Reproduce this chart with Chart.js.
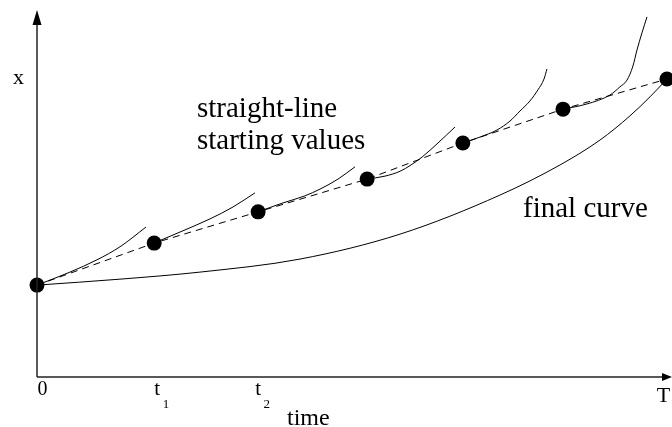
<!DOCTYPE html>
<html>
<head>
<meta charset="utf-8">
<script src="https://cdn.jsdelivr.net/npm/chart.js@4/dist/chart.umd.min.js"></script>
<style>
  html, body { margin: 0; padding: 0; background: #fff; }
  #wrap { width: 672px; height: 427px; position: relative; }
  .probe { font-family: "Liberation Serif"; position: absolute; left: -9999px; }
</style>
</head>
<body>
<span class="probe">straight-line</span>
<div id="wrap"><canvas id="c"></canvas></div>
<script>
// ---- data (time t in [0, T=10], x in arbitrary units 0..100) ----
const nodeT = [0, 1.86, 3.51, 5.24, 6.76, 8.35, 10.0];
const nodeX = [24.7, 36.0, 44.4, 53.2, 62.9, 72.0, 80.1];

const seg0T = [0, 0.524, 0.952, 1.317, 1.730];
const seg0X = [24.7, 28.2, 31.5, 35.0, 40.3];
const seg1T = [1.857, 2.302, 2.746, 3.111, 3.460];
const seg1X = [36.0, 39.2, 42.5, 45.7, 49.5];
const seg2T = [3.508, 3.905, 4.254, 4.492, 4.778, 5.048];
const seg2X = [44.4, 46.8, 48.7, 50.5, 53.2, 56.5];
const seg3T = [5.238, 5.524, 5.762, 5.937, 6.111, 6.365, 6.635];
const seg3X = [53.2, 54.0, 55.3, 57.0, 59.1, 62.9, 67.2];
const seg4T = [6.762, 7.032, 7.302, 7.508, 7.667, 7.825, 7.952, 8.048, 8.095];
const seg4X = [62.9, 64.5, 66.4, 68.8, 71.5, 74.2, 77.2, 80.1, 82.8];
const seg5T = [8.349, 8.730, 9.095, 9.254, 9.365, 9.460, 9.524, 9.603, 9.683];
const seg5X = [72.0, 73.4, 75.8, 78.0, 79.8, 83.6, 87.9, 92.5, 96.8];

const finalT = [0, 1.317, 2.587, 4.175, 5.762, 7.349, 8.302, 8.937, 9.413, 9.730, 10.0];
const finalX = [24.7, 26.3, 28.2, 31.7, 38.4, 48.9, 57.0, 63.7, 70.2, 75.3, 80.1];

const tickVals = [0, 1.86, 3.51, 10.0];
const tickLabels = ['0', 't', 't', 'T'];
const tickSubs = ['', '1', '2', ''];
const xAxisTitle = 'time';
const yAxisTitle = 'x';
const annotLines1 = ['straight-line', 'starting values'];
const annotLine2 = 'final curve';

// ---- helpers ----
const pts = (ts, xs) => ts.map((t, i) => ({ x: t, y: xs[i] }));
const SERIF = '"Liberation Serif", "Times New Roman", Times, "DejaVu Serif", serif';

function curve(ts, xs) {
  return {
    type: 'line', data: pts(ts, xs), borderColor: '#000', borderWidth: 1,
    pointRadius: 0, fill: false, cubicInterpolationMode: 'monotone', clip: false
  };
}

const decor = {
  id: 'decor',
  afterDatasetsDraw(chart) {
    const ctx = chart.ctx;
    const xs = chart.scales.x, ys = chart.scales.y;
    const x0 = xs.getPixelForValue(0), y0 = ys.getPixelForValue(0);
    const xEnd = chart.width, yTop = 10;
    ctx.save();
    ctx.strokeStyle = '#222'; ctx.fillStyle = '#000'; ctx.lineWidth = 1.5;
    // y axis
    ctx.beginPath(); ctx.moveTo(x0, y0); ctx.lineTo(x0, yTop + 8); ctx.stroke();
    ctx.beginPath(); ctx.moveTo(x0, yTop); ctx.lineTo(x0 - 4.5, yTop + 15); ctx.lineTo(x0 + 4.5, yTop + 15); ctx.closePath(); ctx.fill();
    // x axis
    ctx.beginPath(); ctx.moveTo(x0, y0); ctx.lineTo(xEnd - 6, y0); ctx.stroke();
    ctx.beginPath(); ctx.moveTo(xEnd, y0); ctx.lineTo(xEnd - 10, y0 - 4); ctx.lineTo(xEnd - 10, y0 + 4); ctx.closePath(); ctx.fill();

    // tick labels
    const offs = [5.5, 3, 0, -3.5];
    const base = [395, 395, 395, 402];
    const sizes = [20, 21, 21, 22];
    ctx.textBaseline = 'alphabetic';
    tickVals.forEach((v, i) => {
      const px = xs.getPixelForValue(v) + offs[i];
      ctx.font = sizes[i] + 'px ' + SERIF;
      ctx.textAlign = 'center';
      ctx.fillText(tickLabels[i], px, base[i]);
      if (tickSubs[i]) {
        ctx.font = '13px ' + SERIF;
        ctx.textAlign = 'left';
        ctx.fillText(tickSubs[i], px + 5.5, 408);
      }
    });
    // axis titles
    ctx.textAlign = 'left';
    ctx.font = '24px ' + SERIF;
    ctx.fillText(xAxisTitle, 287, 425);
    ctx.font = '22px ' + SERIF;
    ctx.fillText(yAxisTitle, 13, 84);
    // annotations
    ctx.font = '29px ' + SERIF;
    ctx.fillText(annotLines1[0], 197, 117);
    ctx.fillText(annotLines1[1], 197, 149);
    ctx.fillText(annotLine2, 523, 217);
    ctx.restore();
  }
};

new Chart(document.getElementById('c'), {
  type: 'scatter',
  data: {
    datasets: [
      { type: 'scatter', data: pts(nodeT, nodeX), pointRadius: 7.5, pointHoverRadius: 7.5,
        backgroundColor: '#000', borderColor: '#000', borderWidth: 0, showLine: false, clip: false },
      { type: 'line', data: pts(nodeT, nodeX), borderColor: '#000', borderWidth: 1,
        borderDash: [7, 5], pointRadius: 0, fill: false, tension: 0, clip: false },
      curve(seg0T, seg0X), curve(seg1T, seg1X), curve(seg2T, seg2X),
      curve(seg3T, seg3X), curve(seg4T, seg4X), curve(seg5T, seg5X),
      curve(finalT, finalX)
    ]
  },
  options: {
    responsive: true, maintainAspectRatio: false, animation: false,
    layout: { autoPadding: false, padding: { left: 37, right: 0, top: 5, bottom: 50 } },
    plugins: { legend: { display: false }, tooltip: { enabled: false } },
    events: [],
    scales: {
      x: { type: 'linear', min: 0, max: 10.08, display: false },
      y: { type: 'linear', min: 0, max: 100, display: false }
    }
  },
  plugins: [decor]
});
</script>
</body>
</html>
